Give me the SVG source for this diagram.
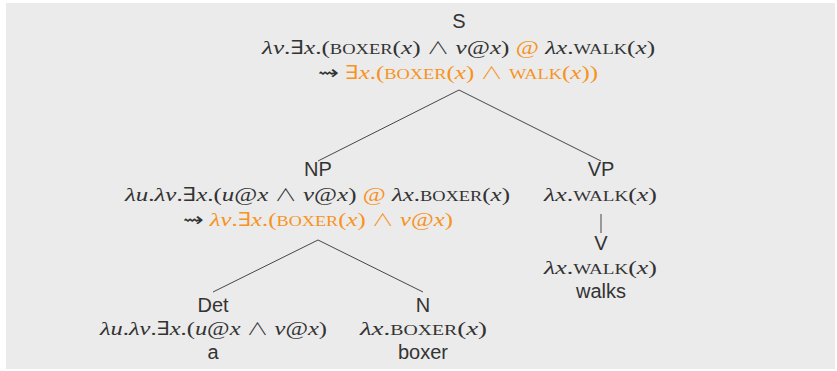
<svg xmlns="http://www.w3.org/2000/svg" width="837" height="371" viewBox="0 0 837 371">
<style>
.bg{fill:#ebebeb}
.lbl{font-family:"Liberation Sans","DejaVu Sans",sans-serif;font-size:20px;fill:#333;text-anchor:middle}
.m{font-family:"Liberation Serif","DejaVu Serif",serif;font-size:19px;fill:#333;text-anchor:middle}
.o{fill:#f7931e}
.i{font-style:italic}
.sc{font-size:14px}
.w{font-family:"Noto Sans CJK SC","DejaVu Sans",sans-serif;font-size:17px;font-weight:300}
.sq{font-family:"DejaVu Sans",sans-serif;font-size:19px}
.edge{stroke:#333;stroke-width:0.9;fill:none}
</style>
<rect class="bg" x="6" y="3" width="829" height="366"/>
<g id="connectors">
<line class="edge" x1="459" y1="90" x2="318" y2="161"/>
<line class="edge" x1="459" y1="90" x2="601" y2="161"/>
<line class="edge" x1="318" y1="240" x2="213" y2="292"/>
<line class="edge" x1="318" y1="240" x2="423" y2="292"/>
<line class="edge" x1="601" y1="214" x2="601" y2="233"/>
</g>
<g id="S">
<text class="lbl" x="459" y="28">S</text>
<text class="m" x="458.5" y="54" textLength="393" lengthAdjust="spacingAndGlyphs"><tspan class="i">λv</tspan>.∃<tspan class="i">x</tspan>.(<tspan class="sc">BOXER</tspan>(<tspan class="i">x</tspan>) <tspan class="w">∧</tspan> <tspan class="i">v</tspan>@<tspan class="i">x</tspan>) <tspan class="o">@</tspan> <tspan class="i">λx</tspan>.<tspan class="sc">WALK</tspan>(<tspan class="i">x</tspan>)</text>
<text class="m" x="458" y="79" textLength="280" lengthAdjust="spacingAndGlyphs"><tspan class="sq">⇝</tspan> <tspan class="o">∃<tspan class="i">x</tspan>.(<tspan class="sc">BOXER</tspan>(<tspan class="i">x</tspan>) <tspan class="w">∧</tspan> <tspan class="sc">WALK</tspan>(<tspan class="i">x</tspan>))</tspan></text>
</g>
<g id="NP">
<text class="lbl" x="318" y="176">NP</text>
<text class="m" x="317.5" y="201" textLength="385" lengthAdjust="spacingAndGlyphs"><tspan class="i">λu</tspan>.<tspan class="i">λv</tspan>.∃<tspan class="i">x</tspan>.(<tspan class="i">u</tspan>@<tspan class="i">x</tspan> <tspan class="w">∧</tspan> <tspan class="i">v</tspan>@<tspan class="i">x</tspan>) <tspan class="o">@</tspan> <tspan class="i">λx</tspan>.<tspan class="sc">BOXER</tspan>(<tspan class="i">x</tspan>)</text>
<text class="m" x="318" y="226" textLength="270" lengthAdjust="spacingAndGlyphs"><tspan class="sq">⇝</tspan> <tspan class="o"><tspan class="i">λv</tspan>.∃<tspan class="i">x</tspan>.(<tspan class="sc">BOXER</tspan>(<tspan class="i">x</tspan>) <tspan class="w">∧</tspan> <tspan class="i">v</tspan>@<tspan class="i">x</tspan>)</tspan></text>
</g>
<g id="VP">
<text class="lbl" x="601" y="176">VP</text>
<text class="m" x="600.5" y="201" textLength="113" lengthAdjust="spacingAndGlyphs"><tspan class="i">λx</tspan>.<tspan class="sc">WALK</tspan>(<tspan class="i">x</tspan>)</text>
</g>
<g id="V">
<text class="lbl" x="601" y="250">V</text>
<text class="m" x="600.5" y="274" textLength="113" lengthAdjust="spacingAndGlyphs"><tspan class="i">λx</tspan>.<tspan class="sc">WALK</tspan>(<tspan class="i">x</tspan>)</text>
<text class="lbl" x="601" y="298">walks</text>
</g>
<g id="Det">
<text class="lbl" x="213" y="312">Det</text>
<text class="m" x="213.5" y="335" textLength="227" lengthAdjust="spacingAndGlyphs"><tspan class="i">λu</tspan>.<tspan class="i">λv</tspan>.∃<tspan class="i">x</tspan>.(<tspan class="i">u</tspan>@<tspan class="i">x</tspan> <tspan class="w">∧</tspan> <tspan class="i">v</tspan>@<tspan class="i">x</tspan>)</text>
<text class="lbl" x="213" y="359">a</text>
</g>
<g id="N">
<text class="lbl" x="423" y="312">N</text>
<text class="m" x="423.5" y="335" textLength="127" lengthAdjust="spacingAndGlyphs"><tspan class="i">λx</tspan>.<tspan class="sc">BOXER</tspan>(<tspan class="i">x</tspan>)</text>
<text class="lbl" x="423" y="359">boxer</text>
</g>
</svg>
